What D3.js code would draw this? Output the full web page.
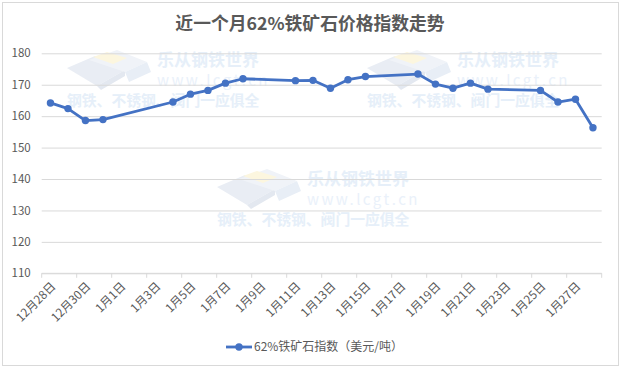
<!DOCTYPE html>
<html>
<head>
<meta charset="utf-8">
<script src="https://cdn.jsdelivr.net/npm/d3@7/dist/d3.min.js"></script>
<style>
  html, body { margin: 0; padding: 0; background: #fff; }
  svg { display: block; }
  text { font-family: "Noto Sans CJK SC", "Liberation Sans", sans-serif; }
</style>
</head>
<body>
<svg id="chart" width="622" height="369"></svg>
<script>
// categories (date axis, every day)
var days = ["12月28日","12月29日","12月30日","12月31日","1月1日","1月2日","1月3日","1月4日",
    "1月5日","1月6日","1月7日","1月8日","1月9日","1月10日","1月11日","1月12日",
    "1月13日","1月14日","1月15日","1月16日","1月17日","1月18日","1月19日","1月20日",
    "1月21日","1月22日","1月23日","1月24日","1月25日","1月26日","1月27日","1月28日"];

// trading days with an index value
var tradeDays = ["12月28日","12月29日","12月30日","12月31日","1月4日","1月5日","1月6日","1月7日",
    "1月8日","1月11日","1月12日","1月13日","1月14日","1月15日","1月18日","1月19日",
    "1月20日","1月21日","1月22日","1月25日","1月26日","1月27日","1月28日"];
var values = [164.2,162.4,158.6,158.9,164.5,167.0,168.2,170.5,
    171.9,171.3,171.4,168.9,171.6,172.6,173.4,170.2,
    168.9,170.5,168.6,168.2,164.5,165.4,156.3];

var yTicks = [110,120,130,140,150,160,170,180];
var seriesName = "62%铁矿石指数（美元/吨）";
var title = "近一个月62%铁矿石价格指数走势";

var svg = d3.select("#chart");
var textGrey = "#595959";
var lineBlue = "#4472C4";

// outer border
svg.append("rect")
    .attr("x", 2.5).attr("y", 2.5)
    .attr("width", 616).attr("height", 363)
    .attr("fill", "#fff")
    .attr("stroke", "#d9d9d9");

var x = d3.scaleBand().domain(days).range([41.7, 601.7]);
var y = d3.scaleLinear().domain([110, 180]).range([273.3, 53.3]);

// watermark (logo + text), drawn under the plot
var wm = svg.append("g").attr("class", "watermark");
[[67, 0], [217, 119], [367, 0]].forEach(function(p) {
    var g = wm.append("g").attr("transform", "translate(" + p[0] + "," + p[1] + ")");
    g.append("polygon").attr("points", "0,68 28,56 58,70 30,86")
        .attr("fill", "#e9edf4");
    g.append("polygon").attr("points", "30,86 58,70 58,76 34,90")
        .attr("fill", "#e3e8f0");
    g.append("polygon").attr("points", "22,60 50,50 80,62 58,72")
        .attr("fill", "#f0f3f8");
    g.append("polygon").attr("points", "58,72 80,62 84,72 62,82")
        .attr("fill", "#e8eef6");
    g.append("polygon").attr("points", "26,57 40,52 60,58 46,64")
        .attr("fill", "#fcf6df");
    g.append("text").attr("x", 90).attr("y", 66)
        .attr("font-size", 17).attr("font-weight", "bold")
        .attr("fill", "#e6eff9").text("乐从钢铁世界");
    g.append("text").attr("x", 90).attr("y", 86)
        .attr("font-size", 15).attr("letter-spacing", 2.4)
        .attr("font-family", "DejaVu Sans")
        .attr("fill", "#eaf1fa").text("www.lcgt.cn");
    g.append("text").attr("x", 0).attr("y", 106)
        .attr("font-size", 14.8).attr("font-weight", "bold")
        .attr("fill", "#e6eff9").text("钢铁、不锈钢、阀门一应俱全");
});

// title
svg.append("text")
    .attr("x", 310).attr("y", 30)
    .attr("text-anchor", "middle")
    .attr("font-size", 17.8).attr("font-weight", "bold")
    .attr("fill", textGrey)
    .text(title);

// gridlines + y labels
var yAxis = d3.axisLeft(y).tickValues(yTicks).tickSize(-560).tickPadding(11);
svg.append("g")
    .attr("transform", "translate(41.7,0)")
    .call(yAxis)
    .call(function(g) {
        g.select(".domain").remove();
        g.selectAll(".tick line").attr("stroke", "#d9d9d9");
        g.selectAll(".tick text")
            .attr("font-family", "Liberation Sans")
            .attr("font-size", 11.5)
            .attr("fill", textGrey);
    });

// x axis
var bw = x.bandwidth();
var xg = svg.append("g").attr("transform", "translate(0,273.3)");
xg.append("line")
    .attr("x1", 41.7).attr("x2", 601.7)
    .attr("stroke", "#d9d9d9");
var tickDays = days.filter(function(d, i) { return i % 2 === 0; });
xg.selectAll(".xtick")
    .data(tickDays.concat(["end"]))
    .enter().append("line")
    .attr("class", "xtick")
    .attr("x1", function(d) { return d === "end" ? 601.7 : x(d); })
    .attr("x2", function(d) { return d === "end" ? 601.7 : x(d); })
    .attr("y1", 0).attr("y2", 4.5)
    .attr("stroke", "#d9d9d9");
xg.selectAll(".xlabel")
    .data(tickDays)
    .enter().append("text")
    .attr("class", "xlabel")
    .attr("text-anchor", "end")
    .attr("font-size", 11.8)
    .attr("fill", textGrey)
    .attr("dy", "0.35em")
    .attr("transform", function(d) {
        return "translate(" + (x(d) + bw / 2 + 3) + ",11) rotate(-45)";
    })
    .text(function(d) { return d; });

// series
var pts = tradeDays.map(function(d, i) { return { day: d, v: values[i] }; });
var line = d3.line()
    .x(function(d) { return x(d.day) + bw / 2; })
    .y(function(d) { return y(d.v); });

svg.append("path")
    .datum(pts)
    .attr("d", line)
    .attr("fill", "none")
    .attr("stroke", lineBlue)
    .attr("stroke-width", 2.8)
    .attr("stroke-linejoin", "round");

svg.selectAll(".dot")
    .data(pts)
    .enter().append("circle")
    .attr("class", "dot")
    .attr("cx", function(d) { return x(d.day) + bw / 2; })
    .attr("cy", function(d) { return y(d.v); })
    .attr("r", 3.7)
    .attr("fill", lineBlue);

// legend
var lg = svg.append("g").attr("transform", "translate(226,347)");
lg.append("line").attr("x1", 0).attr("x2", 26)
    .attr("stroke", lineBlue).attr("stroke-width", 2.8);
lg.append("circle").attr("cx", 13).attr("r", 3.7).attr("fill", lineBlue);
lg.append("text").attr("x", 28).attr("dy", "0.35em")
    .attr("font-size", 12).attr("fill", textGrey)
    .text(seriesName);
</script>
</body>
</html>
